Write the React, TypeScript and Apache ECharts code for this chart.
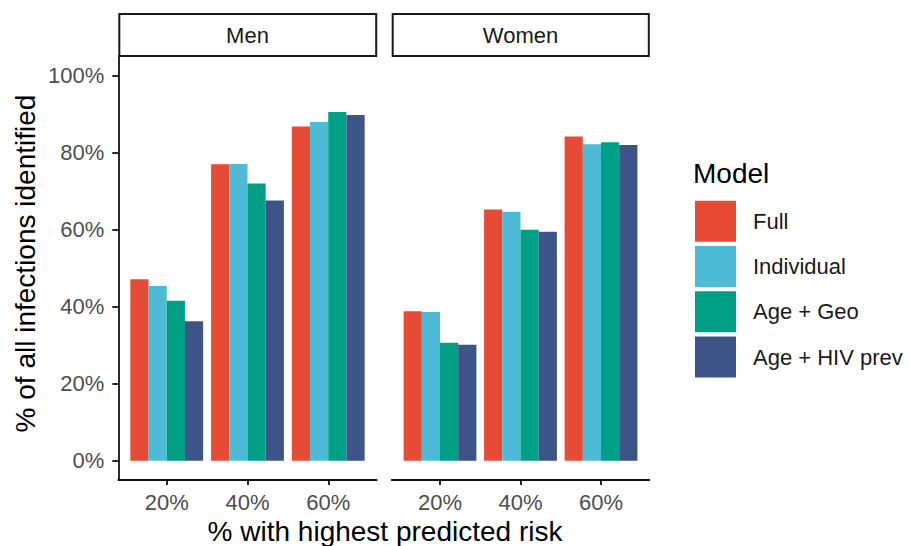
import React, { useEffect, useRef } from "react";
import * as echarts from "echarts";

const categories = ["20%", "40%", "60%"];
const categoryPositions = [1, 2, 3];
const models = ["Full", "Individual", "Age + Geo", "Age + HIV prev"];
const modelColors = ["#E64B35", "#4DBBD5", "#00A087", "#3C5488"];
const panels = ["Men", "Women"];
const yTicks = [0, 20, 40, 60, 80, 100];

const menFull = [47.1, 76.9, 86.7];
const menIndividual = [45.3, 77.0, 87.9];
const menAgeGeo = [41.5, 71.9, 90.5];
const menAgeHiv = [36.2, 67.5, 89.7];

const womenFull = [38.8, 65.2, 84.1];
const womenIndividual = [38.6, 64.6, 82.1];
const womenAgeGeo = [30.6, 59.9, 82.6];
const womenAgeHiv = [30.1, 59.4, 81.9];

const panelValues = [
  [menFull, menIndividual, menAgeGeo, menAgeHiv],
  [womenFull, womenIndividual, womenAgeGeo, womenAgeHiv],
];

const FONT = "'Liberation Sans', Arial, Helvetica, sans-serif";

export default function App() {
  const ref = useRef<HTMLDivElement>(null);

  useEffect(() => {
    if (!ref.current) return;
    const chart = echarts.init(ref.current, undefined, { renderer: "svg" });

    const panelLeft = [118.3, 391.7];
    const panelWidth = [258.4, 257.6];
    const gridTop = 56;
    const gridHeight = 424;

    const grids = panelLeft.map((l, i) => ({
      left: l,
      top: gridTop,
      width: panelWidth[i],
      height: gridHeight,
    }));

    const xAxes = panelLeft.map((_, i) => ({
      type: "value",
      gridIndex: i,
      min: 0.4,
      max: 3.6,
      splitLine: { show: false },
      axisLine: { show: true, onZero: false, lineStyle: { color: "#111", width: 1.8 } },
      axisTick: {
        show: true,
        customValues: categoryPositions,
        length: 5,
        lineStyle: { color: "#111", width: 1.8 },
      },
      axisLabel: {
        show: true,
        customValues: categoryPositions,
        formatter: (v: number) => categories[Math.round(v) - 1] ?? "",
        color: "#4d4d4d",
        fontSize: 22,
        lineHeight: 22,
        fontFamily: FONT,
        margin: 11,
      },
    }));

    const yAxes = panelLeft.map((_, i) => ({
      type: "value",
      gridIndex: i,
      min: -5,
      max: 105,
      splitLine: { show: false },
      axisLine: { show: i === 0, onZero: false, lineStyle: { color: "#111", width: 1.8 } },
      axisTick: {
        show: i === 0,
        customValues: yTicks,
        length: 6,
        lineStyle: { color: "#111", width: 1.8 },
      },
      axisLabel: {
        show: i === 0,
        customValues: yTicks,
        formatter: (v: number) => `${v}%`,
        color: "#4d4d4d",
        fontSize: 22,
        fontFamily: FONT,
        margin: 14,
      },
    }));

    const series: any[] = [];
    panelValues.forEach((vals, p) => {
      vals.forEach((arr, m) => {
        series.push({
          type: "bar",
          name: models[m],
          xAxisIndex: p,
          yAxisIndex: p,
          barWidth: 18.2,
          barGap: "0%",
          itemStyle: { color: modelColors[m] },
          data: categoryPositions.map((pos, k) => [pos, arr[k]]),
        });
      });
    });

    const strips = panels.map((name, i) => ({
      type: "group",
      children: [
        {
          type: "rect",
          shape: { x: panelLeft[i] + 1, y: 14, width: panelWidth[i] - 1.5, height: 42 },
          style: { fill: "#fff", stroke: "#1a1a1a", lineWidth: 2 },
        },
        {
          type: "text",
          x: panelLeft[i] + panelWidth[i] / 2,
          y: 35,
          style: {
            text: name,
            fontSize: 22,
            fontFamily: FONT,
            fill: "#1a1a1a",
            textAlign: "center",
            textVerticalAlign: "middle",
          },
        },
      ],
    }));

    chart.setOption({
      animation: false,
      backgroundColor: "#ffffff",
      grid: grids,
      xAxis: xAxes,
      yAxis: yAxes,
      legend: {
        data: models,
        orient: "vertical",
        left: 690,
        top: 195.7,
        padding: 5,
        itemWidth: 41,
        itemHeight: 41,
        itemGap: 4.3,
        icon: "rect",
        selectedMode: false,
        textStyle: {
          fontSize: 22,
          fontFamily: FONT,
          color: "#1a1a1a",
          padding: [0, 0, 0, 12],
        },
      },
      graphic: [
        ...strips,
        {
          type: "text",
          x: 693,
          y: 173,
          style: {
            text: "Model",
            fontSize: 28,
            fontFamily: FONT,
            fill: "#000",
            textAlign: "left",
            textVerticalAlign: "middle",
          },
        },
        {
          type: "text",
          x: 385,
          y: 531,
          style: {
            text: "% with highest predicted risk",
            fontSize: 28,
            lineHeight: 28,
            fontFamily: FONT,
            fill: "#000",
            textAlign: "center",
            textVerticalAlign: "middle",
          },
        },
        {
          type: "text",
          x: 25,
          y: 263.5,
          rotation: Math.PI / 2,
          style: {
            text: "% of all infections identified",
            fontSize: 28,
            fontFamily: FONT,
            fill: "#000",
            textAlign: "center",
            textVerticalAlign: "middle",
          },
        },
      ],
      series,
    });

    return () => chart.dispose();
  }, []);

  return (
    <div
      ref={ref}
      style={{ position: "fixed", left: 0, top: 0, width: 910, height: 546 }}
    />
  );
}
